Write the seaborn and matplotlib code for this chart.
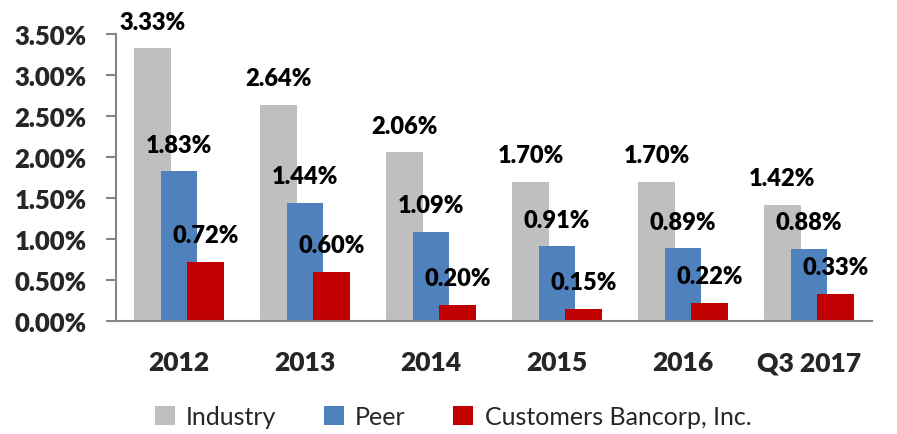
import matplotlib
matplotlib.use("Agg")
import matplotlib.pyplot as plt
import seaborn as sns
import pandas as pd
from matplotlib.patches import Patch

# chart data
categories = ["2012", "2013", "2014", "2015", "2016", "Q3 2017"]
series_names = ["Industry", "Peer", "Customers Bancorp, Inc."]
industry = [3.33, 2.64, 2.06, 1.70, 1.70, 1.42]
peer = [1.83, 1.44, 1.09, 0.91, 0.89, 0.88]
customers = [0.72, 0.60, 0.20, 0.15, 0.22, 0.33]
yticks = [0, 0.5, 1.0, 1.5, 2.0, 2.5, 3.0, 3.5]

colors = ["#BFBFBF", "#4F81BD", "#C00000"]
offsets = [-0.21, 0.0, 0.21]  # overlapping bars like the original
bar_w = 0.29

sns.set_style("white")
plt.rcParams["font.family"] = ["Lato", "DejaVu Sans"]

fig = plt.figure(figsize=(8.97, 4.35), dpi=100)
ax = fig.add_axes([0.1293, 0.26, 0.972 - 0.1293, 0.9195 - 0.26])

for name, vals, col, off in zip(series_names, [industry, peer, customers], colors, offsets):
    df = pd.DataFrame({"pos": [i + off for i in range(len(categories))], "val": vals})
    sns.barplot(data=df, x="pos", y="val", native_scale=True, color=col, width=bar_w,
                saturation=1, edgecolor="none", errorbar=None, ax=ax)
    for p, v in zip(df["pos"], vals):
        ax.annotate(f"{v:.2f}%", (p, v), xytext=(0, 19), textcoords="offset points",
                    ha="center", va="center", fontsize=17, fontweight="heavy", color="black")

ax.set_xlim(-0.5, len(categories) - 0.5)
ax.set_ylim(0, 3.5)
ax.set_yticks(yticks)
ax.set_yticklabels([f"{t:.2f}%" for t in yticks], fontsize=18.5, fontweight="heavy")
ax.set_xticks(range(len(categories)))
ax.set_xticklabels(categories, fontsize=19, fontweight="heavy")
ax.set_xticks([i - 0.5 for i in range(len(categories) + 1)], minor=True)
ax.tick_params(axis="x", which="major", length=0, pad=21)
ax.tick_params(axis="x", which="minor", length=7, width=1.5, color="#868686", direction="out")
ax.tick_params(axis="y", length=7, width=1.5, color="#868686", direction="out", pad=14, left=True)
ax.set_xlabel("")
ax.set_ylabel("")
for s in ["top", "right"]:
    ax.spines[s].set_visible(False)
for s in ["left", "bottom"]:
    ax.spines[s].set_color("#868686")
    ax.spines[s].set_linewidth(1.5)

handles = [Patch(facecolor=c, edgecolor="none", label=n) for c, n in zip(colors, series_names)]
fig.legend(handles=handles, loc="center", bbox_to_anchor=(0.505, 0.04), ncol=3, frameon=False,
           fontsize=18, handlelength=0.8, handleheight=0.8, handletextpad=0.45, columnspacing=1.9)

fig.savefig("out.png", dpi=100)
